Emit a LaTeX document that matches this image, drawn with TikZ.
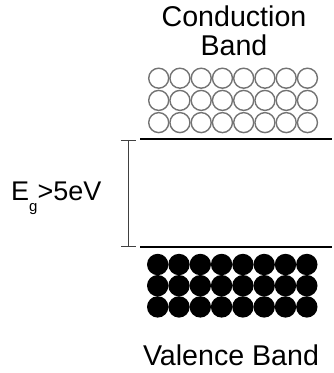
\documentclass[tikz,border=0pt]{standalone}
\usepackage{fontspec}
\setmainfont{Liberation Sans}
\usetikzlibrary{arrows.meta}
\tikzset{
  lbl/.style={inner sep=0pt, font=\fontsize{27}{29}\selectfont, text=black},
  biglbl/.style={lbl, font=\fontsize{28.6}{30}\selectfont},
  empty/.style={circle, draw=black!55, line width=1.4pt, fill=white, minimum size=20pt, inner sep=0pt},
  full/.style={circle, fill=black, minimum size=21.4pt, inner sep=0pt},
  edge/.style={line width=2pt, black},
  gapbar/.style={line width=1pt, black!75, {Bar[width=15pt,line width=1pt]}-{Bar[width=15pt,line width=1pt]}}
}
\begin{document}
\begin{tikzpicture}[x=1pt,y=-1pt]
\useasboundingbox (0,0) rectangle (333,373);
% labels
\node[biglbl, anchor=base] (cb1) at (234,26) {Conduction};
\node[biglbl, anchor=base] (cb2) at (234,55) {Band};
\node[biglbl, anchor=base] (vb) at (231,365) {Valence Band};
\node[lbl, anchor=base west] (eg) at (11,200) {E\raisebox{-11pt}{\fontsize{15}{15}\selectfont g}>5eV};
% conduction band states
\foreach \j in {0,1,2}{
  \foreach \i in {0,...,7}{
    \node[empty] (c\i\j) at ({158.7+21.25*\i},{78.2+22.2*\j}) {};
  }
}
% valence band states
\foreach \j in {0,1,2}{
  \foreach \i in {0,...,7}{
    \node[full] (v\i\j) at ({157.7+21.3*\i},{264.5+21.2*\j}) {};
  }
}
% band edges
\coordinate (cl) at (140,139);
\coordinate (cr) at (332,139);
\coordinate (vl) at (140,247);
\coordinate (vr) at (332,247);
\draw[edge] (cl) -- (cr);
\draw[edge] (vl) -- (vr);
% gap
\coordinate (gt) at (128,139.5);
\coordinate (gb) at (128,247);
\draw[gapbar] (gt) -- (gb);
\end{tikzpicture}
\end{document}
